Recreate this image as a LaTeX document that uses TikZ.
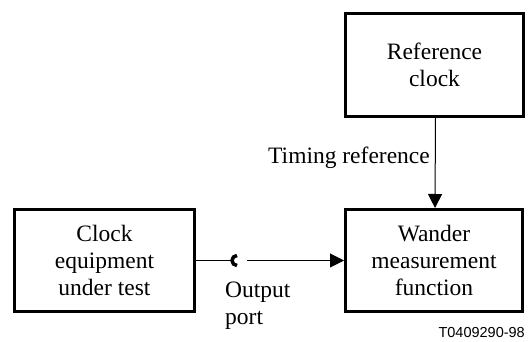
\documentclass[tikz,border=0pt]{standalone}
\usepackage{fontspec}
\setmainfont{Liberation Serif}
\newfontfamily\tagfont{Liberation Sans}
\usetikzlibrary{arrows.meta}

\tikzset{
    block/.style={draw, line width=3pt, minimum width=#1, minimum height=102pt,
        align=center, inner sep=0pt, font=\fontsize{23.5}{27}\selectfont},
    sig/.style={line width=1pt, -{Triangle[length=14pt,width=14pt]}},
    wire/.style={line width=1pt},
    portmark/.style={line width=3.5pt},
    caption/.style={inner sep=0pt, font=\fontsize{23.5}{27}\selectfont}
}

\begin{document}
\begin{tikzpicture}[x=1pt, y=1pt]

                \useasboundingbox (0, 0) rectangle (531, 342);

                    % boxes
                    \node[block=178pt, minimum height=103pt] (refclk) at (434.5, 277) {Reference\\clock};
                    \node[block=180pt] (cut) at (104.5, 81.5) {Clock\\equipment\\under test};
                    \node[block=177pt] (wmf) at (434, 81.5) {Wander\\measurement\\function};

                    % timing reference
                    \draw[sig] ([xshift=1pt]refclk.south) -- ([xshift=1pt]wmf.north);
                    \node[caption, anchor=base east] (timing) at (430, 178) {Timing reference};

                    % output port
                    \coordinate (port) at (232, 81.5);
                    \coordinate (portout) at (247, 81.5);
                    \draw[wire] (cut.east) -- (port);
                    \draw[portmark] ([xshift=5pt, yshift=5pt]port) arc[start angle=90, end angle=270, radius=5pt];
                    \draw[sig] (portout) -- (wmf.west);
                    \node[caption, anchor=north west, align=left] (outport) at (225, 60) {Output\\port};

                    \node[inner sep=0pt, anchor=base east, font=\tagfont\fontsize{14.5}{17}\selectfont] (tag) at (525, 4) {T0409290-98};

                \end{tikzpicture}
\end{document}
